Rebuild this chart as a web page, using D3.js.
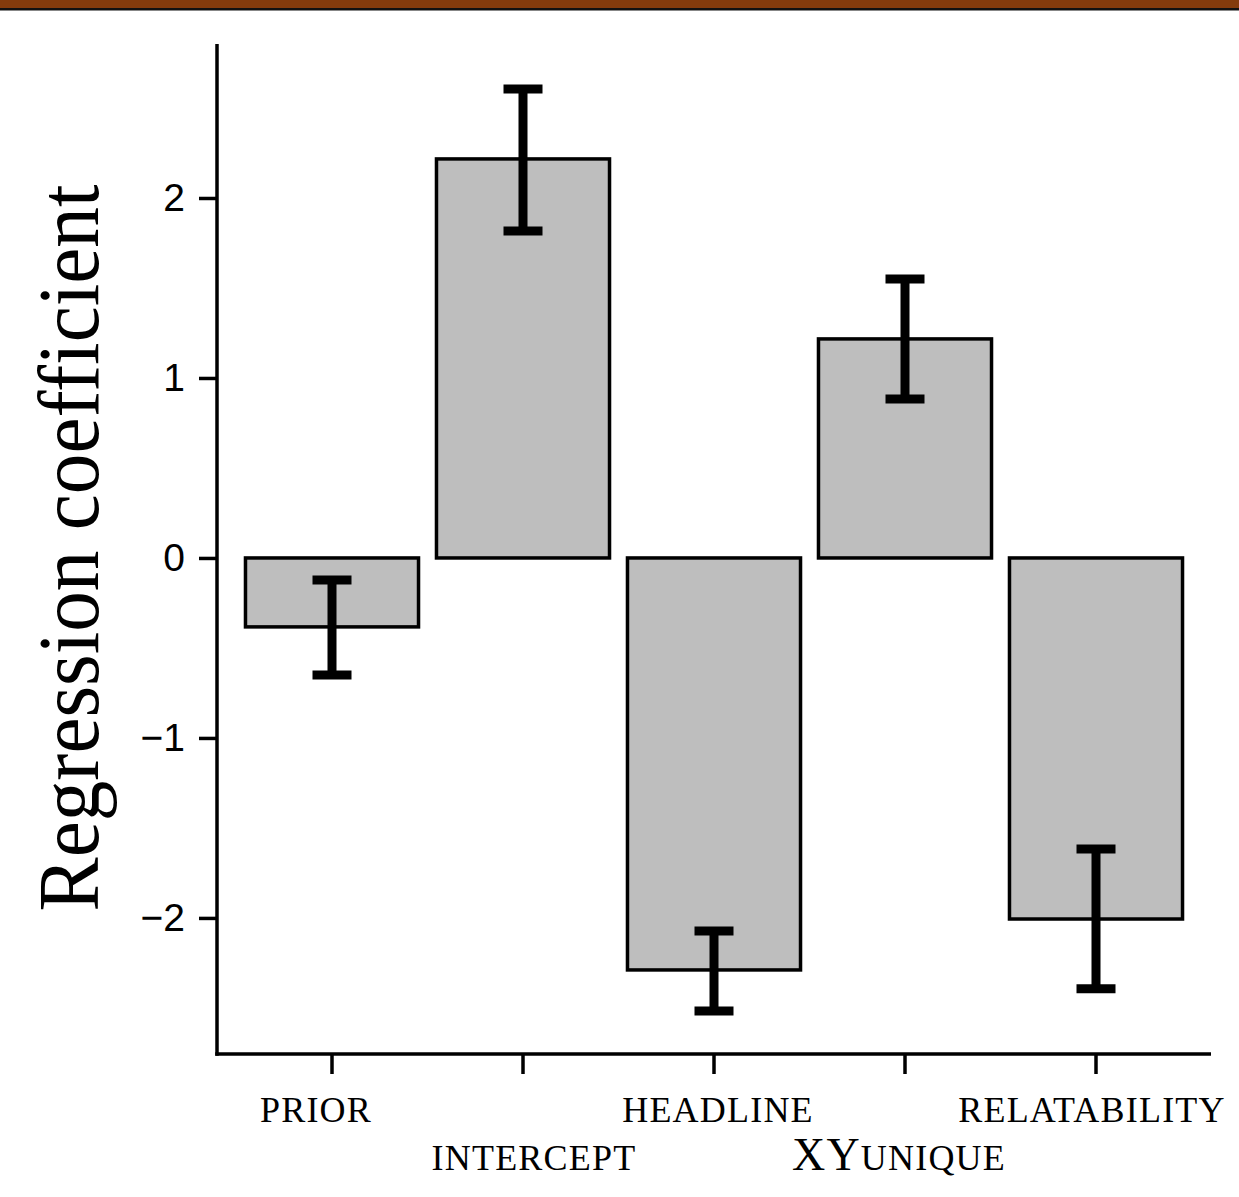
<!DOCTYPE html>
<html>
<head>
<meta charset="utf-8">
<script src="https://cdn.jsdelivr.net/npm/d3@7"></script>
<style>
  html, body { margin: 0; padding: 0; background: #fff; }
  svg { display: block; }
</style>
</head>
<body>
<script>
"use strict";

// Chart data
const categories = ["prior", "intercept", "headline", "XYunique", "relatability"];
const coefficients = [-0.383, 2.217, -2.289, 1.217, -2.006];
const errLow = [-0.65, 1.817, -2.517, 0.883, -2.394];
const errHigh = [-0.122, 2.606, -2.072, 1.55, -1.617];
const yTicks = [-2, -1, 0, 1, 2];

const w = 1239;
const h = 1197;

// small horizontal nudges of the tick labels, like the original typesetting
const labelShift = [-16, 11, 4, -6, -4];

const svg = d3.select("body").append("svg").attr("width", w).attr("height", h);

// Header band at the top of the slide
svg.append("rect").attr("x", 0).attr("y", 0).attr("width", w).attr("height", 8).attr("fill", "#843b0c");
svg.append("rect").attr("x", 0).attr("y", 8).attr("width", w).attr("height", 2.5).attr("fill", "#111");

const x = d3.scaleBand().domain(categories).range([236.5, 1191.5]).paddingInner(0.094).paddingOuter(0.047);
const y = d3.scaleLinear().domain([-2.756, 2.85]).range([1054, 45]);

const axisX0 = 217;
const axisY0 = 1054;

// Bars
svg.append("g")
  .selectAll("rect")
  .data(categories)
  .enter()
  .append("rect")
  .attr("x", (d) => x(d))
  .attr("width", x.bandwidth())
  .attr("y", (d, i) => y(Math.max(0, coefficients[i])))
  .attr("height", (d, i) => Math.abs(y(coefficients[i]) - y(0)))
  .attr("fill", "#bebebe")
  .attr("stroke", "#000")
  .attr("stroke-width", 3.5);

// Error bars
const errG = svg.append("g").attr("stroke", "#000").attr("stroke-width", 9);
categories.forEach((c, i) => {
  const cx = x(c) + x.bandwidth() / 2;
  errG.append("line").attr("x1", cx).attr("x2", cx).attr("y1", y(errLow[i])).attr("y2", y(errHigh[i]));
  errG.append("line").attr("x1", cx - 19.5).attr("x2", cx + 19.5).attr("y1", y(errLow[i])).attr("y2", y(errLow[i]));
  errG.append("line").attr("x1", cx - 19.5).attr("x2", cx + 19.5).attr("y1", y(errHigh[i])).attr("y2", y(errHigh[i]));
});

// Y axis
const yAxis = d3.axisLeft(y).tickValues(yTicks).tickSize(18).tickPadding(14)
  .tickFormat((d) => (d < 0 ? "\u2212" + Math.abs(d) : d));
const yg = svg.append("g").attr("transform", `translate(${axisX0},0)`).call(yAxis);
yg.select(".domain").remove();
yg.selectAll(".tick line").attr("stroke", "#000").attr("stroke-width", 3.5);
yg.selectAll(".tick text")
  .attr("fill", "#000")
  .style("font-family", "'Liberation Sans', Arial, sans-serif")
  .style("font-size", "39px");
svg.append("line")
  .attr("x1", axisX0).attr("x2", axisX0)
  .attr("y1", 44).attr("y2", axisY0 + 1.75)
  .attr("stroke", "#000").attr("stroke-width", 3.5);

// X axis
svg.append("line")
  .attr("x1", axisX0 - 1.75).attr("x2", 1211)
  .attr("y1", axisY0).attr("y2", axisY0)
  .attr("stroke", "#000").attr("stroke-width", 3.5);
const xg = svg.append("g");
categories.forEach((c, i) => {
  const cx = x(c) + x.bandwidth() / 2;
  xg.append("line").attr("x1", cx).attr("x2", cx).attr("y1", axisY0).attr("y2", axisY0 + 20)
    .attr("stroke", "#000").attr("stroke-width", 3.5);
  const t = xg.append("text")
    .attr("x", cx + labelShift[i])
    .attr("y", i % 2 === 0 ? 1122 : 1170)
    .attr("text-anchor", "middle")
    .style("font-family", "'Liberation Serif', 'DejaVu Serif', serif")
    .style("letter-spacing", "1.2px")
    .attr("fill", "#000");
  if (c === "XYunique") {
    t.append("tspan").style("font-size", "46px").text("XY");
    t.append("tspan").style("font-size", "36px").text("UNIQUE");
  } else {
    t.style("font-size", "36px").text(c.toUpperCase());
  }
});

// Y label
svg.append("text")
  .attr("transform", "translate(98,548) rotate(-90)")
  .attr("text-anchor", "middle")
  .attr("textLength", 727)
  .attr("lengthAdjust", "spacingAndGlyphs")
  .style("font-family", "'Liberation Serif', 'DejaVu Serif', serif")
  .style("font-size", "86px")
  .attr("fill", "#000")
  .text("Regression coefficient");
</script>
</body>
</html>
